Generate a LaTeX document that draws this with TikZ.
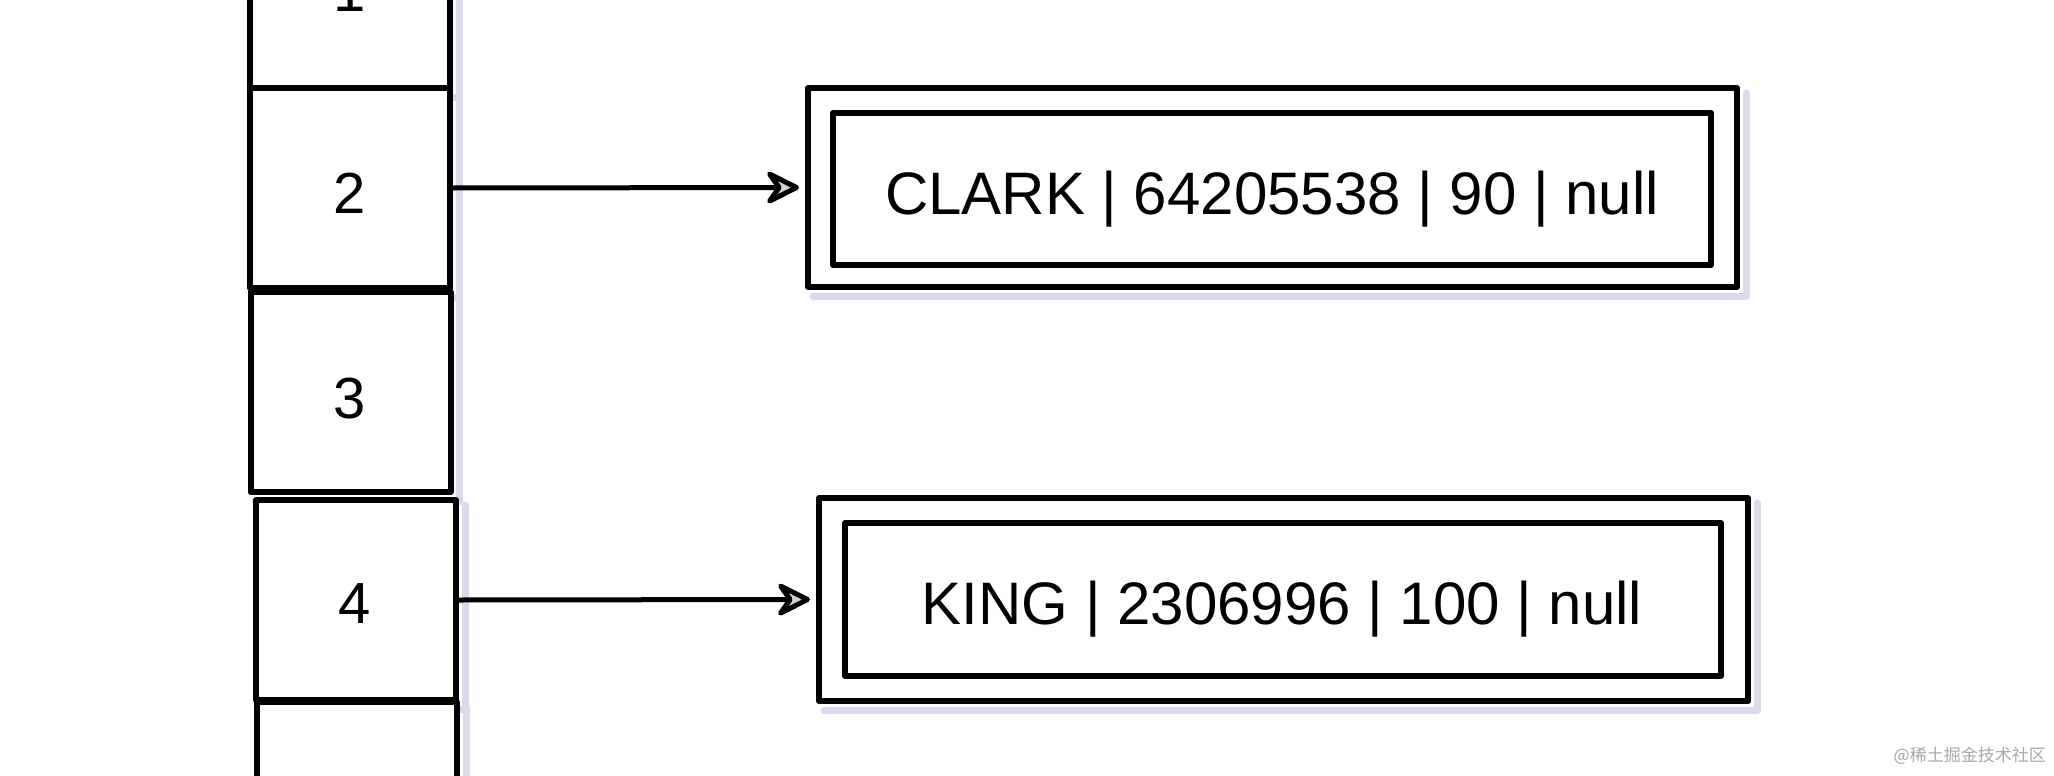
\documentclass[tikz,border=0pt]{standalone}
\usepackage{fontspec}
\setmainfont{Liberation Sans}
\newfontfamily\cjk{Noto Sans CJK SC}
\usetikzlibrary{arrows.meta,backgrounds,calc}
\definecolor{shadowc}{RGB}{218,218,236}
\definecolor{wmark}{RGB}{168,168,168}
\tikzset{
  cell/.style={draw=black, line width=6pt, minimum width=200pt, minimum height=200pt,
    inner sep=0pt, font=\fontsize{58}{60}\selectfont, line join=round, fill=white,
    text depth=0pt, text height=0pt},
  outerbox/.style={draw=black, line width=6pt, inner sep=0pt, line join=round, fill=white},
  innerbox/.style={draw=black, line width=6pt, inner sep=0pt, line join=round,
    font=\fontsize{60}{66}\selectfont},
  rowtext/.style={inner sep=0pt, font=\fontsize{60}{66}\selectfont},
  link/.style={line width=5pt, line cap=round, line join=round,
    -{Stealth[length=40pt,width=40pt,inset=14pt,fill=black!18,line join=round]}},
  shadowline/.style={draw=shadowc, line width=7pt, line cap=round, line join=round},
  watermark/.style={text=wmark, font=\cjk\fontsize{17}{20}\selectfont, anchor=east, inner sep=0pt}
}
\begin{document}
\begin{tikzpicture}[x=1pt,y=-1pt]
\useasboundingbox (0,0) rectangle (2054,776);
\clip (0,0) rectangle (2054,776);
% column of cells
\node[cell] (c1) at (350,-12)  {};
\node[cell] (c2) at (350,188)  {};
\node[cell] (c3) at (350.5,392) {};
\node[cell] (c4) at (356,600)  {};
\node[cell] (c5) at (357,802)  {};
\node[rowtext, anchor=base, font=\fontsize{58}{60}\selectfont] (t1) at (350,12)  {1};
\node[rowtext, anchor=base, font=\fontsize{58}{60}\selectfont] (t2) at (350,213) {2};
\node[rowtext, anchor=base, font=\fontsize{58}{60}\selectfont] (t3) at (350,418) {3};
\node[rowtext, anchor=base, font=\fontsize{58}{60}\selectfont] (t4) at (355,623) {4};
% record boxes
\node[outerbox, minimum width=929pt, minimum height=199pt] (o1) at (1272.5,187.5) {};
\node[innerbox, minimum width=878pt, minimum height=152pt] (i1) at (1272,189) {};
\node[rowtext, anchor=base] (r1) at (1272,214) {CLARK | 64205538 | 90 | null};
\node[outerbox, minimum width=929pt, minimum height=203pt] (o2) at (1283.5,599.5) {};
\node[innerbox, minimum width=876pt, minimum height=153pt] (i2) at (1283,599.5) {};
\node[rowtext, anchor=base] (r2) at (1282,624) {KING | 2306996 | 100 | null};
% shadows
\begin{pgfonlayer}{background}
  \fill[white] (0,0) rectangle (2054,776);
  \foreach \n in {c1,c2,c3,c4,c5,o1,o2} {
    \draw[shadowline] ([shift={(6,8)}]\n.north east) -- ([shift={(6,6)}]\n.south east) -- ([shift={(8,6)}]\n.south west);
  }
\end{pgfonlayer}
% links
\draw[link, shorten >=6pt] (c2.east) -- (o1.west);
\draw[link, shorten >=6pt] (c4.east) -- (o2.west);
% watermark
\node[watermark] (wm) at (2046,756) {@稀土掘金技术社区};
\end{tikzpicture}
\end{document}
